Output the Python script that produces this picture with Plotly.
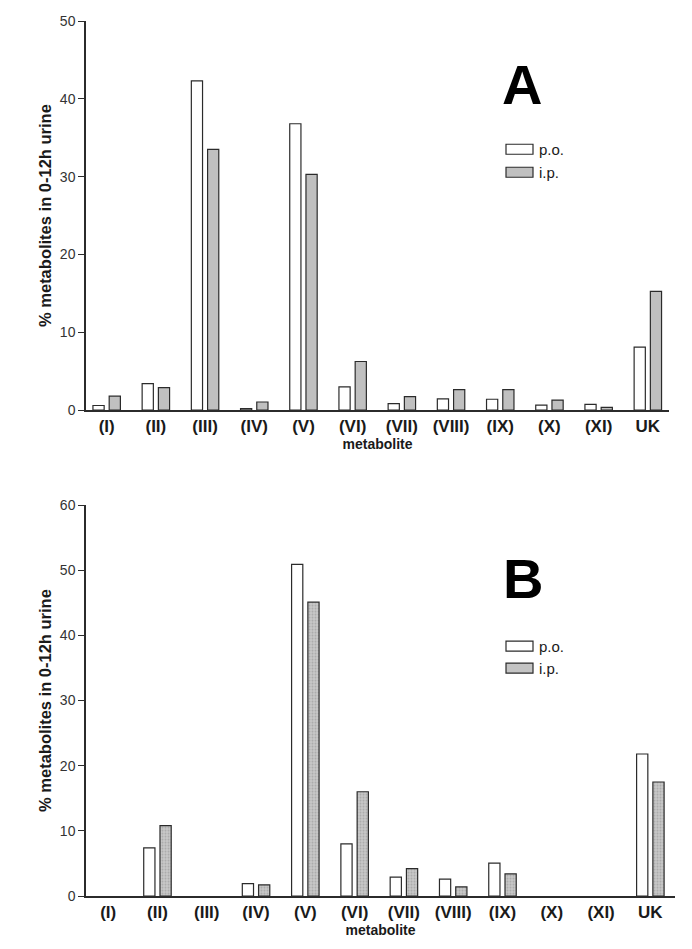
import plotly.graph_objects as go

categories = ["(I)", "(II)", "(III)", "(IV)", "(V)", "(VI)", "(VII)", "(VIII)", "(IX)", "(X)", "(XI)", "UK"]

# Panel A values (% metabolites in 0-12h urine)
a_po = [0.6, 3.4, 42.3, 0.2, 36.8, 3.0, 0.85, 1.45, 1.4, 0.65, 0.75, 8.1]
a_ip = [1.8, 2.9, 33.5, 1.05, 30.3, 6.25, 1.75, 2.65, 2.65, 1.3, 0.35, 15.25]

# Panel B values (None = not detected)
b_po = [None, 7.4, None, 1.9, 50.9, 8.0, 2.9, 2.6, 5.05, None, None, 21.8]
b_ip = [None, 10.8, None, 1.7, 45.1, 16.0, 4.2, 1.4, 3.4, None, None, 17.5]

series_names = ["p.o.", "i.p."]
panel_letters = ["A", "B"]
y_max = [50, 60]

# The page body has an 8px margin; size the figure so page == window.
OFF = 8
W, H = 692 - 2 * OFF, 949 - 2 * OFF
FONT = "Arial, 'Liberation Sans', sans-serif"
AX = "#2b2b2b"

# plot-area box in (window) pixels
L, R, T, B = 86, 675, 20.7, 896
PW, PH = R - L, B - T


def dx(x):
    """window pixel x -> paper x (paper spans the plot area)"""
    return (x - L) / PW


def dy(y):
    return (B - y) / PH


fig = go.Figure()

outline = dict(color=AX, width=1.2)
fig.add_trace(go.Bar(x=categories, y=a_po, name=series_names[0], xaxis="x", yaxis="y",
                     marker=dict(color="white", line=outline), showlegend=False))
fig.add_trace(go.Bar(x=categories, y=a_ip, name=series_names[1], xaxis="x", yaxis="y",
                     marker=dict(color="#c0c0c0", line=outline), showlegend=False))
fig.add_trace(go.Bar(x=categories, y=b_po, name=series_names[0], xaxis="x2", yaxis="y2",
                     marker=dict(color="white", line=outline), showlegend=False))
fig.add_trace(go.Bar(x=categories, y=b_ip, name=series_names[1], xaxis="x2", yaxis="y2",
                     marker=dict(color="#c4c4c4", line=outline,
                                 pattern=dict(shape=".", fgcolor="#8a8a8a", bgcolor="#c8c8c8",
                                              size=3, solidity=0.35)),
                     showlegend=False))

xaxis_common = dict(type="category", showline=True, linecolor=AX, linewidth=1.5,
                    ticks="", showgrid=False, zeroline=False, automargin=False,
                    tickfont=dict(family=FONT, size=17, color="#1a1a1a", weight="bold"),
                    title=dict(text="metabolite", font=dict(family=FONT, size=14, color="#1a1a1a", weight="bold"),
                               standoff=2))
yaxis_common = dict(showline=True, linecolor=AX, linewidth=1.5, ticks="outside", ticklen=6,
                    tickcolor=AX, tickwidth=1.2, showgrid=False, zeroline=False, dtick=10,
                    automargin=False,
                    tickfont=dict(family=FONT, size=14, color="#333333"),
                    title=dict(text="% metabolites in 0-12h urine",
                               font=dict(family=FONT, size=16.5, color="#1a1a1a", weight="bold"),
                               standoff=4))

fig.update_layout(
    width=W, height=H,
    margin=dict(l=L - OFF, r=W - (R - OFF), t=T - OFF, b=H - (B - OFF), autoexpand=False),
    paper_bgcolor="white", plot_bgcolor="white",
    barmode="group", bargap=0.34, bargroupgap=0.31,
    font=dict(family=FONT),
    xaxis=dict(xaxis_common, domain=[0, dx(669)], range=[-0.42, 11.43], anchor="y"),
    yaxis=dict(yaxis_common, domain=[dy(410), 1], range=[0, y_max[0]], anchor="x"),
    xaxis2=dict(xaxis_common, domain=[0, 1], range=[-0.45, 11.5], anchor="y2"),
    yaxis2=dict(yaxis_common, domain=[0, dy(505)], range=[0, y_max[1]], anchor="x2"),
)

annotations = []
shapes = []
# Panel letters
for letter, (cx, cy) in zip(panel_letters, [(522, 84), (523, 578)]):
    annotations.append(dict(text=letter, x=dx(cx), y=dy(cy), xref="paper", yref="paper",
                            showarrow=False, xanchor="center", yanchor="middle",
                            font=dict(family=FONT, size=56, color="black", weight="bold")))

# Legends (drawn manually to match the wide rectangular swatches)
legend_rows = [
    [(149, "white"), (172, "#c0c0c0")],
    [(646, "white"), (668, "#c4c4c4")],
]
for rows in legend_rows:
    for (cy, col), name in zip(rows, series_names):
        shapes.append(dict(type="rect", xref="paper", yref="paper",
                           x0=dx(506), x1=dx(533), y0=dy(cy + 5), y1=dy(cy - 5),
                           fillcolor=col, line=dict(color=AX, width=1.2)))
        annotations.append(dict(text=name, x=dx(537), y=dy(cy), xref="paper", yref="paper",
                                showarrow=False, xanchor="left", yanchor="middle",
                                font=dict(family=FONT, size=15, color="#1a1a1a")))

fig.update_layout(annotations=annotations, shapes=shapes)

fig.write_html("out.html")
